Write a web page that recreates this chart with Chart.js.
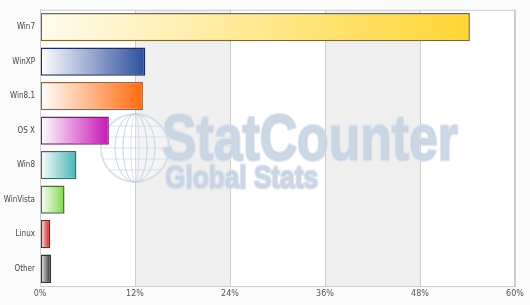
<!DOCTYPE html>
<html>
<head>
<meta charset="utf-8">
<script src="https://cdn.jsdelivr.net/npm/chart.js@4/dist/chart.umd.min.js"></script>
<style>
  html, body { margin: 0; padding: 0; background: #fbfbfb; }
  #wrap { width: 530px; height: 305px; }
</style>
</head>
<body>
<div id="wrap"><canvas id="chart-1" width="530" height="305"></canvas></div>
<script>
const labels = ["Win7", "WinXP", "Win8.1", "OS X", "Win8", "WinVista", "Linux", "Other"];
const shares = [54.3, 13.3, 13.0, 8.7, 4.6, 3.1, 1.3, 1.4];
const barColors = ["#ffd633", "#2d4f9e", "#ff6a0d", "#c816b6", "#45b3b3", "#80d64c", "#d00a0a", "#222222"];
const lightColors = ["#fffbee", "#ffffff", "#ffffff", "#ffffff", "#ffffff", "#ffffff", "#ffffff", "#ffffff"];
const borderColors = ["#7a6a30", "#1e2f5e", "#996040", "#6a2a66", "#3a6a6a", "#4a6a3a", "#6a2a2a", "#333333"];
const tickValues = [0, 12, 24, 36, 48, 60];

// draws text squeezed to a given width
const fitText = (ctx, text, x, y, w) => {
  const m = ctx.measureText(text).width;
  ctx.save();
  ctx.translate(x, y);
  ctx.scale(w / m, 1);
  ctx.strokeText(text, 0, 0);
  ctx.fillText(text, 0, 0);
  ctx.restore();
};

const bandsPlugin = {
  id: "bands",
  beforeDraw(chart) {
    const { ctx, chartArea: a, scales } = chart;
    ctx.save();
    ctx.fillStyle = "#ffffff";
    ctx.fillRect(a.left, a.top, a.right - a.left, a.bottom - a.top);
    ctx.fillStyle = "#efefef";
    for (let i = 1; i < tickValues.length - 1; i += 2) {
      const x1 = scales.x.getPixelForValue(tickValues[i]);
      const x2 = scales.x.getPixelForValue(tickValues[i + 1]);
      ctx.fillRect(x1, a.top, x2 - x1, a.bottom - a.top);
    }
    ctx.restore();
  },
  beforeDatasetsDraw(chart) {
    const ctx = chart.ctx;
    ctx.save();
    // globe
    ctx.globalAlpha = 0.6;
    ctx.fillStyle = "rgba(255,255,255,0.5)";
    ctx.strokeStyle = "#c5d1e0";
    ctx.lineWidth = 2;
    ctx.beginPath();
    ctx.arc(135, 148, 34, 0, Math.PI * 2);
    ctx.fill();
    ctx.stroke();
    ctx.lineWidth = 1;
    for (let k = -2; k <= 2; k++) {
      ctx.beginPath();
      ctx.ellipse(135, 148, Math.abs(k) * 8 + 4, 34, 0, 0, Math.PI * 2);
      ctx.stroke();
      const h = Math.sqrt(34 * 34 - (k * 11) ** 2);
      ctx.beginPath();
      ctx.moveTo(135 - h, 148 + k * 11);
      ctx.lineTo(135 + h, 148 + k * 11);
      ctx.stroke();
    }
    ctx.globalAlpha = 1;
    ctx.lineJoin = "round";
    ctx.fillStyle = "rgba(196,209,226,0.85)";
    ctx.strokeStyle = "rgba(215,224,236,0.9)";
    ctx.lineWidth = 3;
    ctx.textBaseline = "alphabetic";
    ctx.font = "bold 64px 'Liberation Sans'";
    fitText(ctx, "StatCounter", 162, 160, 296);
    ctx.font = "bold 32px 'Liberation Sans'";
    fitText(ctx, "Global Stats", 165, 188, 153);
    ctx.restore();
  }
};

const renderShareChart = (data, labels) => {
  const ctx1 = document.getElementById("chart-1").getContext("2d");
  const myChart = new Chart(ctx1, {
    type: "bar",
    data: {
      labels: labels,
      datasets: [
        {
          label: "Market share",
          data: data,
          backgroundColor: (c) => {
            const chart = c.chart;
            if (!chart.chartArea || !chart.scales.x) return barColors[c.dataIndex];
            const x0 = chart.scales.x.getPixelForValue(0);
            const x1 = chart.scales.x.getPixelForValue(data[c.dataIndex]);
            const g = chart.ctx.createLinearGradient(x0, 0, x1, 0);
            g.addColorStop(0, lightColors[c.dataIndex]);
            g.addColorStop(1, barColors[c.dataIndex]);
            return g;
          },
          borderColor: borderColors,
          borderWidth: 1.5,
          borderSkipped: false,
          barPercentage: 0.82,
          categoryPercentage: 1,
        },
      ],
    },
    options: {
      indexAxis: "y",
      responsive: false,
      animation: false,
      layout: { padding: { top: 8, right: 15, left: 0, bottom: 0 } },
      plugins: { legend: { display: false }, tooltip: { enabled: false } },
      scales: {
        x: {
          min: 0,
          max: 60,
          afterBuildTicks: (axis) => { axis.ticks = tickValues.map(v => ({ value: v })); },
          ticks: {
            callback: (v) => v + "%",
            color: "#555",
            font: { family: "DejaVu Sans", size: 8 },
            padding: 3,
            maxRotation: 0,
          },
          grid: { color: "#cccccc", lineWidth: 1, drawTicks: false },
          border: { color: "#bbbbbb" },
          afterFit: (axis) => { axis.height = 19; },
        },
        y: {
          ticks: {
            color: "#444",
            font: { family: "DejaVu Sans Condensed", size: 8 },
            padding: 5,
          },
          grid: { display: false, drawTicks: false },
          border: { color: "#bbbbbb" },
          afterFit: (axis) => { axis.width = 40; },
        },
      },
    },
    plugins: [bandsPlugin, {
      id: "frame",
      afterDatasetsDraw(chart) {
        const { ctx, chartArea: a } = chart;
        ctx.save();
        ctx.strokeStyle = "#cccccc";
        ctx.lineWidth = 1;
        ctx.strokeRect(a.left + 0.5, a.top + 0.5, a.right - a.left - 1, a.bottom - a.top);
        ctx.restore();
      }
    }],
  });
}

renderShareChart(shares, labels);
</script>
</body>
</html>
